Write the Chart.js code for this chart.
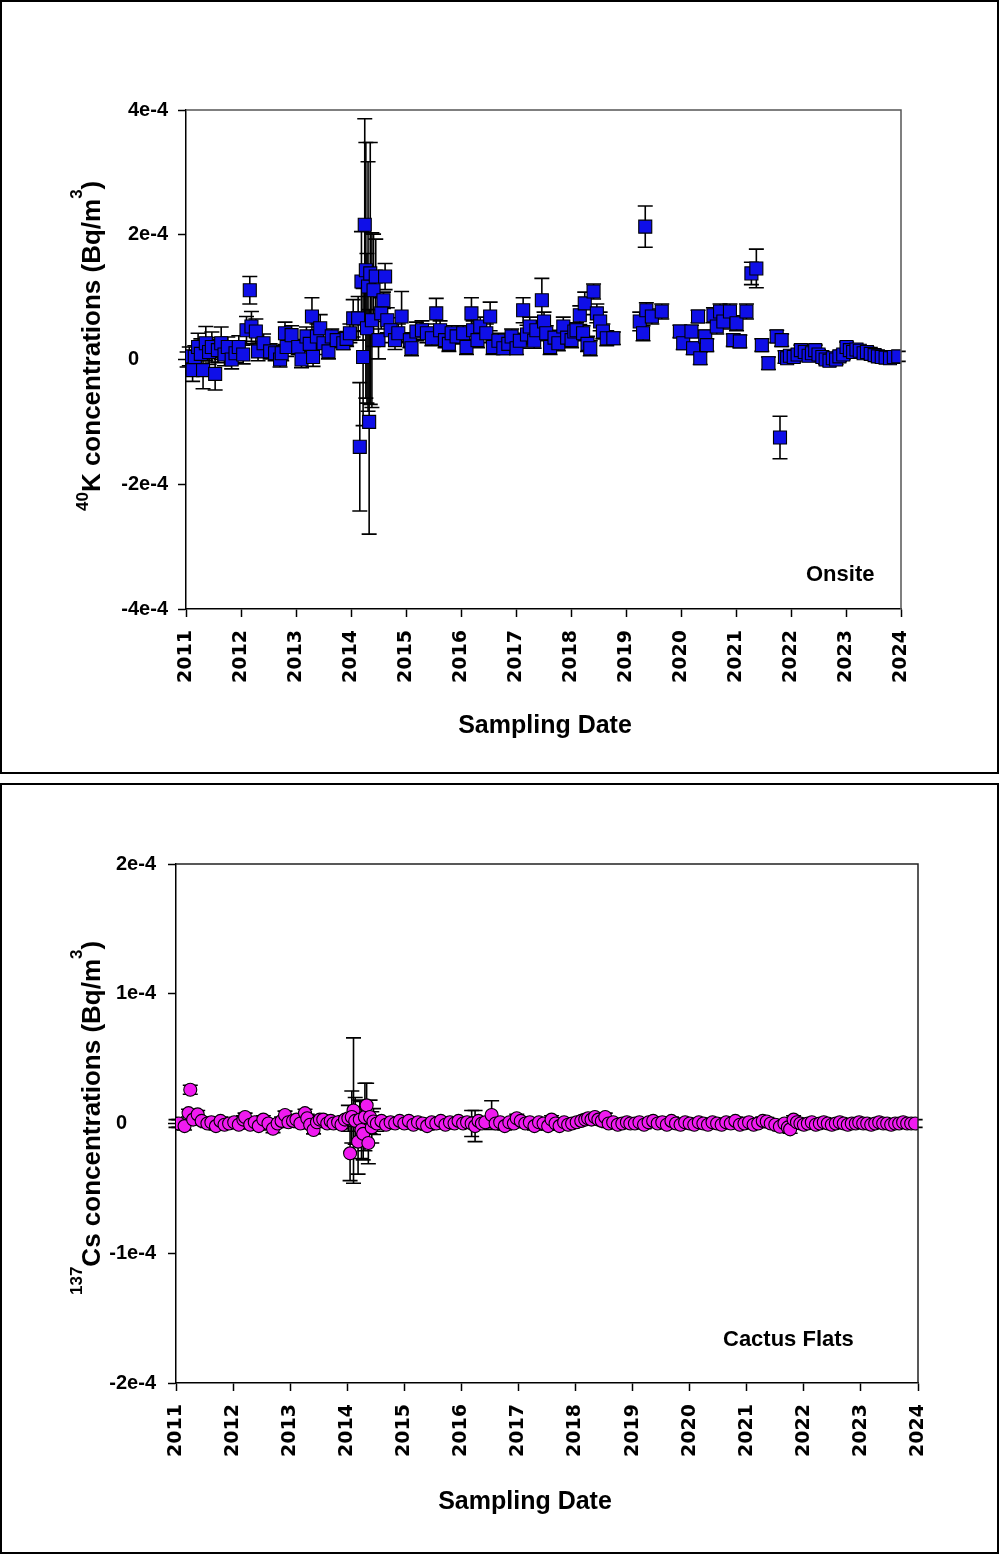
<!DOCTYPE html>
<html>
<head>
<meta charset="utf-8">
<script src="https://cdn.jsdelivr.net/npm/chart.js@4.4.1/dist/chart.umd.min.js"></script>
<style>
  body { margin: 0; background: #fff; width: 999px; height: 1554px; position: relative; overflow: hidden; }
  .panel { position: absolute; left: 0; width: 999px; border: 2px solid #000; box-sizing: border-box; }
  #p1 { top: 0; height: 774px; }
  #p2 { top: 783px; height: 771px; }
  canvas { position: absolute; left: 0; }
  #c1 { top: 0; }
  #c2 { top: 783px; }
</style>
</head>
<body>
<div class="panel" id="p1"></div>
<div class="panel" id="p2"></div>
<canvas id="c1" width="999" height="774"></canvas>
<canvas id="c2" width="999" height="771"></canvas>
<script>
// values are in units of 1e-5 Bq/m3, dates in decimal years

const yearTicks = ['2011','2012','2013','2014','2015','2016','2017','2018','2019','2020','2021','2022','2023','2024'];
const kTicks = ['-4e-4','-2e-4','0','2e-4','4e-4'];
const csTicks = ['-2e-4','-1e-4','0','1e-4','2e-4'];

// 40K, Onsite
const kDates = [
  2011.02, 2011.06, 2011.12, 2011.16, 2011.22, 2011.27, 2011.31, 2011.36, 2011.42, 2011.47, 2011.53, 2011.58, 2011.64, 2011.70, 2011.76, 2011.83, 2011.90, 2011.96,
  2012.04, 2012.10, 2012.16, 2012.19, 2012.27, 2012.31, 2012.41, 2012.53, 2012.62, 2012.71, 2012.74, 2012.80, 2012.83, 2012.92,
  2013.04, 2013.10, 2013.19, 2013.25, 2013.29, 2013.31, 2013.38, 2013.44, 2013.50, 2013.59, 2013.65, 2013.74, 2013.86, 2013.92, 2013.98,
  2014.04, 2014.13, 2014.16, 2014.19, 2014.22, 2014.25, 2014.27, 2014.29, 2014.31, 2014.33, 2014.35, 2014.38, 2014.41, 2014.45, 2014.50, 2014.55, 2014.59, 2014.62, 2014.66, 2014.72, 2014.80, 2014.86, 2014.92,
  2015.07, 2015.10, 2015.19, 2015.29, 2015.38, 2015.47, 2015.55, 2015.62, 2015.71, 2015.78, 2015.83, 2015.92,
  2016.04, 2016.10, 2016.19, 2016.22, 2016.30, 2016.35, 2016.46, 2016.53, 2016.58, 2016.68, 2016.77, 2016.86, 2016.92,
  2017.01, 2017.07, 2017.13, 2017.20, 2017.25, 2017.33, 2017.37, 2017.47, 2017.51, 2017.55, 2017.62, 2017.70, 2017.77, 2017.86, 2017.93,
  2018.01, 2018.06, 2018.10, 2018.16, 2018.22, 2018.25, 2018.30, 2018.35, 2018.41, 2018.47, 2018.53, 2018.58, 2018.65, 2018.77,
  2019.25, 2019.31, 2019.35, 2019.37, 2019.47, 2019.65, 2019.98,
  2020.04, 2020.19, 2020.22, 2020.31, 2020.35, 2020.44, 2020.47, 2020.59, 2020.65, 2020.71, 2020.77, 2020.89, 2020.95,
  2021.01, 2021.07, 2021.19, 2021.28, 2021.37, 2021.47, 2021.59, 2021.74, 2021.80, 2021.83, 2021.89,
  2021.93, 2021.98, 2022.05, 2022.12, 2022.18, 2022.25, 2022.32, 2022.38, 2022.44, 2022.50, 2022.57, 2022.63, 2022.70, 2022.76, 2022.82, 2022.88, 2022.95,
  2023.01, 2023.07, 2023.13, 2023.19, 2023.25, 2023.32, 2023.38, 2023.45, 2023.52, 2023.58, 2023.65, 2023.72, 2023.80, 2023.87, 2023.95
];
const kValues = [
  0.0, 0.5, -1.7, 0.4, 2.0, 0.9, -1.7, 2.6, 1.2, 2.0, -2.3, 1.5, 2.6, 0.8, 2.0, 0.0, 1.0, 2.0,
  0.8, 4.7, 11.1, 5.3, 4.5, 1.3, 2.6, 1.3, 1.0, 0.0, 1.0, 4.2, 2.0, 3.9,
  2.0, 0.0, 3.7, 2.5, 6.9, 0.4, 3.7, 5.0, 2.6, 1.3, 3.7, 3.1, 2.6, 3.3, 4.2,
  6.6, 6.6, -14.0, 12.5, 0.4, 21.6, 14.3, 5.0, 11.7, -10.0, 13.8, 6.3, 11.1, 13.3, 3.1, 7.4, 9.5, 13.3, 6.3, 4.7, 3.1, 4.2, 6.9,
  3.1, 1.8, 4.5, 4.7, 4.2, 3.4, 7.4, 4.7, 3.1, 2.5, 4.2, 3.7,
  4.2, 2.0, 7.4, 4.7, 3.1, 5.3, 4.2, 6.9, 2.0, 3.0, 1.8, 2.5, 3.7,
  1.8, 3.0, 7.9, 4.0, 5.3, 3.0, 4.7, 9.5, 6.1, 4.2, 2.0, 3.5, 2.6, 5.3, 3.5,
  3.1, 4.5, 4.7, 7.1, 4.2, 9.0, 2.5, 1.8, 10.9, 7.4, 6.1, 4.5, 3.4, 3.4,
  6.1, 4.2, 21.3, 7.9, 6.9, 7.7, 4.5,
  2.6, 4.5, 1.8, 6.9, 0.2, 3.7, 2.3, 7.1, 5.3, 7.7, 6.1, 7.7, 3.1,
  5.8, 2.9, 7.7, 13.8, 14.6, 2.3, -0.6, 3.7, -12.5, 3.1, 0.4,
  0.2, 0.6, 0.4, 0.8, 1.5, 1.2, 0.6, 1.0, 1.5, 0.8, 0.4, 0.0, -0.2, 0.2, 0.0, 0.5, 0.8,
  2.0, 1.5, 1.2, 1.6, 1.4, 1.0, 1.2, 0.9, 0.7, 0.5, 0.4, 0.3, 0.2, 0.4, 0.5
];
const kErrors = [
  1.2, 1.5, 1.8, 1.8, 2.2, 2.4, 3.0, 2.7, 2.0, 2.4, 2.6, 2.0, 2.6, 1.8, 1.6, 1.5, 1.5, 1.8,
  1.5, 2.2, 2.2, 2.4, 2.0, 1.5, 1.5, 1.2, 1.2, 1.2, 1.2, 1.8, 1.5, 1.5,
  1.2, 1.3, 1.5, 1.5, 3.0, 1.5, 2.0, 2.2, 1.8, 1.2, 1.2, 1.2, 1.0, 1.2, 1.5,
  3.0, 3.5, 10.3, 8.0, 11.0, 17.0, 20.5, 12.0, 20.0, 18.0, 21.0, 14.0, 9.0, 6.0, 3.0, 2.5, 1.3, 2.1, 2.0, 2.0, 1.5, 1.5, 4.0,
  1.2, 1.2, 1.5, 1.5, 1.5, 1.2, 2.4, 1.5, 1.2, 1.2, 1.2, 1.2,
  1.2, 1.2, 2.5, 1.5, 1.2, 1.5, 1.5, 2.3, 1.2, 1.2, 1.0, 1.0, 1.2,
  1.0, 1.2, 2.0, 1.5, 1.5, 1.2, 1.5, 3.5, 1.5, 1.2, 1.2, 1.2, 1.2, 1.5, 1.2,
  1.2, 1.2, 1.2, 1.5, 1.2, 1.8, 1.2, 1.2, 1.2, 1.5, 1.5, 1.2, 1.2, 1.0,
  1.5, 1.2, 3.3, 1.2, 1.2, 1.2, 1.0,
  1.0, 1.0, 1.0, 1.0, 1.0, 1.0, 1.0, 1.2, 1.2, 1.2, 1.2, 1.2, 1.0,
  1.2, 1.0, 1.2, 1.8, 3.1, 1.0, 1.0, 1.0, 3.4, 1.0, 1.0,
  0.8, 0.8, 0.8, 0.8, 0.8, 0.8, 0.8, 0.8, 0.8, 0.8, 0.8, 0.8, 0.8, 0.8, 0.8, 0.8, 0.8,
  0.8, 0.8, 0.8, 0.8, 0.8, 0.8, 0.8, 0.8, 0.8, 0.8, 0.8, 0.8, 0.8, 0.8, 0.8
];

// 137Cs, Cactus Flats
const csDates = [
  2011.00, 2011.05, 2011.15, 2011.22, 2011.25, 2011.30, 2011.38, 2011.45, 2011.55, 2011.62, 2011.70, 2011.78, 2011.85, 2011.93,
  2012.02, 2012.10, 2012.18, 2012.21, 2012.30, 2012.38, 2012.45, 2012.53, 2012.62, 2012.70, 2012.78, 2012.85, 2012.91, 2012.97,
  2013.05, 2013.11, 2013.18, 2013.26, 2013.30, 2013.35, 2013.41, 2013.47, 2013.52, 2013.58, 2013.65, 2013.71, 2013.76, 2013.84, 2013.90, 2013.96,
  2014.02, 2014.11, 2014.08, 2014.05, 2014.14, 2014.19, 2014.22, 2014.25, 2014.28, 2014.31, 2014.34, 2014.37, 2014.40, 2014.43, 2014.46, 2014.52, 2014.60, 2014.68, 2014.76, 2014.84, 2014.92,
  2015.00, 2015.08, 2015.16, 2015.24, 2015.32, 2015.40, 2015.48, 2015.56, 2015.64, 2015.72, 2015.80, 2015.88, 2015.95,
  2016.03, 2016.10, 2016.18, 2016.24, 2016.30, 2016.36, 2016.42, 2016.53, 2016.60, 2016.68, 2016.76, 2016.84, 2016.92, 2016.97,
  2017.04, 2017.12, 2017.20, 2017.28, 2017.36, 2017.44, 2017.52, 2017.58, 2017.65, 2017.72, 2017.80, 2017.87, 2017.94,
  2018.02, 2018.10, 2018.17, 2018.22, 2018.28, 2018.34, 2018.40, 2018.46, 2018.52, 2018.58, 2018.66, 2018.74, 2018.82, 2018.90, 2018.96,
  2019.04, 2019.12, 2019.20, 2019.28, 2019.36, 2019.44, 2019.52, 2019.60, 2019.68, 2019.76, 2019.84, 2019.92,
  2020.00, 2020.08, 2020.16, 2020.24, 2020.32, 2020.40, 2020.48, 2020.56, 2020.64, 2020.72, 2020.80, 2020.88, 2020.96,
  2021.04, 2021.12, 2021.20, 2021.28, 2021.35, 2021.42, 2021.50, 2021.58, 2021.66, 2021.72, 2021.76, 2021.82, 2021.88, 2021.94,
  2022.00, 2022.07, 2022.14, 2022.21, 2022.28, 2022.35, 2022.42, 2022.49, 2022.56, 2022.63, 2022.70, 2022.77, 2022.84, 2022.91, 2022.97,
  2023.04, 2023.11, 2023.18, 2023.25, 2023.32, 2023.39, 2023.46, 2023.53, 2023.60, 2023.67, 2023.74, 2023.81, 2023.88, 2023.95
];
const csValues = [
  0.0, 0.0, -0.2, 0.8, 2.6, 0.3, 0.7, 0.2, 0.0, 0.1, -0.2, 0.2, -0.1, 0.0,
  0.1, -0.1, 0.3, 0.5, -0.1, 0.1, -0.2, 0.3, 0.0, -0.4, 0.0, 0.2, 0.65, 0.1,
  0.2, 0.3, 0.0, 0.8, 0.4, -0.1, -0.5, 0.1, 0.3, 0.3, 0.0, 0.2, 0.0, 0.1, -0.1, 0.3,
  0.4, 1.0, 0.5, -2.3, 0.2, -1.4, 0.3, -0.5, -0.8, 0.5, 1.4, -1.5, 0.5, -0.3, 0.15, 0.0, 0.2, -0.1, 0.1, 0.0, 0.2,
  0.0, 0.2, -0.1, 0.1, 0.0, -0.2, 0.1, 0.0, 0.2, -0.1, 0.1, 0.0, 0.2,
  0.0, 0.1, 0.0, -0.2, 0.2, 0.0, 0.1, 0.65, 0.0, 0.1, -0.2, 0.1, 0.0, 0.4,
  0.2, 0.0, 0.1, -0.2, 0.1, 0.0, -0.2, 0.3, 0.0, -0.2, 0.1, -0.1, 0.0,
  0.1, 0.2, 0.3, 0.4, 0.3, 0.5, 0.3, 0.2, 0.5, 0.0, 0.1, -0.1, 0.0, 0.1, 0.0,
  0.0, 0.1, -0.1, 0.1, 0.2, 0.0, 0.1, -0.1, 0.2, 0.0, -0.1, 0.1,
  0.0, -0.1, 0.1, 0.0, -0.1, 0.1, 0.0, -0.1, 0.1, 0.0, 0.2, -0.1, 0.0,
  0.1, -0.1, 0.0, 0.2, 0.15, 0.0, -0.1, -0.25, 0.0, -0.3, -0.45, 0.3, 0.1, 0.0,
  -0.1, 0.0, 0.1, -0.1, 0.0, 0.1, 0.0, -0.1, 0.0, 0.1, 0.0, -0.1, 0.0, 0.0, 0.1,
  0.0, 0.0, -0.1, 0.0, 0.1, 0.0, 0.0, -0.1, 0.0, 0.0, 0.1, 0.0, 0.0, 0.0
];
const csErrors = [
  0.3, 0.3, 0.3, 0.3, 0.35, 0.3, 0.3, 0.3, 0.3, 0.3, 0.3, 0.3, 0.3, 0.3,
  0.3, 0.3, 0.3, 0.3, 0.3, 0.3, 0.3, 0.3, 0.3, 0.3, 0.3, 0.3, 0.3, 0.3,
  0.3, 0.3, 0.3, 0.3, 0.3, 0.3, 0.3, 0.3, 0.3, 0.3, 0.3, 0.3, 0.3, 0.3, 0.3, 0.3,
  1.0, 5.6, 2.0, 2.1, 1.8, 2.5, 1.5, 2.2, 2.0, 2.6, 1.7, 1.6, 1.3, 1.2, 1.0, 0.6, 0.3, 0.3, 0.3, 0.3, 0.3,
  0.3, 0.3, 0.3, 0.3, 0.3, 0.3, 0.3, 0.3, 0.3, 0.3, 0.3, 0.3, 0.3,
  0.3, 0.3, 1.0, 1.2, 0.3, 0.3, 0.3, 1.1, 0.3, 0.3, 0.3, 0.3, 0.3, 0.3,
  0.3, 0.3, 0.3, 0.3, 0.3, 0.3, 0.3, 0.3, 0.3, 0.3, 0.3, 0.3, 0.3,
  0.3, 0.3, 0.3, 0.3, 0.3, 0.3, 0.3, 0.3, 0.3, 0.3, 0.3, 0.3, 0.3, 0.3, 0.3,
  0.3, 0.3, 0.3, 0.3, 0.3, 0.3, 0.3, 0.3, 0.3, 0.3, 0.3, 0.3,
  0.3, 0.3, 0.3, 0.3, 0.3, 0.3, 0.3, 0.3, 0.3, 0.3, 0.3, 0.3, 0.3,
  0.3, 0.3, 0.3, 0.3, 0.3, 0.3, 0.3, 0.3, 0.3, 0.3, 0.3, 0.3, 0.3, 0.3,
  0.3, 0.3, 0.3, 0.3, 0.3, 0.3, 0.3, 0.3, 0.3, 0.3, 0.3, 0.3, 0.3, 0.3, 0.3,
  0.3, 0.3, 0.3, 0.3, 0.3, 0.3, 0.3, 0.3, 0.3, 0.3, 0.3, 0.3, 0.3, 0.3
];

const FONT = '"Liberation Sans", Arial, sans-serif';

// vertical error bars with caps, drawn under the markers
const errorBars = {
  id: 'errorBars',
  beforeDatasetsDraw(chart) {
    const ctx = chart.ctx;
    const xs = chart.scales.x, ys = chart.scales.y;
    ctx.save();
    ctx.strokeStyle = '#000';
    ctx.lineWidth = 1.6;
    chart.data.datasets.forEach(ds => {
      const errs = ds.errors || [];
      ds.data.forEach((p, i) => {
        const e = errs[i];
        if (!e) return;
        const x = xs.getPixelForValue(p.x);
        const yHi = ys.getPixelForValue(p.y + e);
        const yLo = ys.getPixelForValue(p.y - e);
        ctx.beginPath();
        ctx.moveTo(x, yHi); ctx.lineTo(x, yLo);
        ctx.moveTo(x - 7.5, yHi); ctx.lineTo(x + 7.5, yHi);
        ctx.moveTo(x - 7.5, yLo); ctx.lineTo(x + 7.5, yLo);
        ctx.stroke();
      });
    });
    ctx.restore();
  }
};

// frame lines, y tick labels (aligned on the first digit) and the texts
const panelDeco = {
  id: 'panelDeco',
  afterDraw(chart, args, o) {
    const ctx = chart.ctx;
    const a = chart.chartArea;
    const ys = chart.scales.y;
    ctx.save();
    ctx.strokeStyle = o.frameColor;
    ctx.lineWidth = 1.5;
    ctx.beginPath();
    ctx.moveTo(a.left, a.top);
    ctx.lineTo(a.right, a.top);
    ctx.lineTo(a.right, a.bottom);
    ctx.stroke();

    ctx.fillStyle = '#000';
    ctx.font = 'bold 20px ' + FONT;
    ctx.textBaseline = 'middle';
    ys.ticks.forEach(t => {
      const y = ys.getPixelForValue(t.value);
      let lab = String(t.label);
      if (lab[0] === '-') {
        ctx.textAlign = 'right';
        ctx.fillText('-', o.tickAnchor, y);
        lab = lab.slice(1);
      }
      ctx.textAlign = 'left';
      ctx.fillText(lab, o.tickAnchor, y);
    });

    ctx.textBaseline = 'alphabetic';
    ctx.textAlign = 'left';
    ctx.font = 'bold 22px ' + FONT;
    ctx.fillText(o.site, o.siteX, o.siteY);

    ctx.textAlign = 'center';
    ctx.font = 'bold 25px ' + FONT;
    ctx.fillText('Sampling Date', o.xTitleX, o.xTitleY);

    ctx.translate(o.yTitleX, o.yTitleY);
    ctx.rotate(-Math.PI / 2);
    ctx.textAlign = 'left';
    let pos = 0;
    o.yTitle.forEach(p => {
      ctx.font = 'bold ' + p.size + 'px ' + FONT;
      ctx.fillText(p.text, pos, -p.raise);
      pos += ctx.measureText(p.text).width;
    });
    ctx.restore();
  }
};

function buildChart(id, s) {
  const pts = s.dates.map((d, i) => ({ x: d, y: s.values[i] }));
  return new Chart(document.getElementById(id), {
    type: 'scatter',
    data: {
      datasets: [{
        data: pts,
        errors: s.errors,
        pointStyle: s.pointStyle,
        pointRadius: s.pointRadius,
        backgroundColor: s.color,
        borderColor: '#000',
        borderWidth: 1.1
      }]
    },
    options: {
      responsive: false,
      animation: false,
      events: [],
      layout: { padding: s.padding },
      plugins: {
        legend: { display: false },
        tooltip: { enabled: false },
        panelDeco: s.deco
      },
      scales: {
        x: {
          type: 'linear', min: 2011, max: 2024,
          afterFit: sc => { sc.height = 120; },
          ticks: {
            stepSize: 1, autoSkip: false, maxRotation: 90, minRotation: 90, padding: 13,
            color: '#000', font: { family: 'DejaVu Sans', weight: 'bold', size: 19 },
            callback: (v, i) => yearTicks[i]
          },
          grid: { drawOnChartArea: false, tickLength: 8, tickColor: '#000', tickWidth: 1.5 },
          border: { color: '#000', width: 1.5 }
        },
        y: {
          min: s.yMin, max: s.yMax,
          afterFit: sc => { sc.width = 100; },
          ticks: {
            display: false,
            stepSize: s.yStep,
            callback: (v, i) => s.yTicks[i]
          },
          grid: { drawOnChartArea: false, tickLength: 8, tickColor: '#000', tickWidth: 1.5 },
          border: { color: '#000', width: 1.5 }
        }
      }
    },
    plugins: [errorBars, panelDeco]
  });
}

buildChart('c1', {
  dates: kDates, values: kValues, errors: kErrors,
  pointStyle: 'rect', pointRadius: 9.2, color: '#0f0fe8',
  yMin: -40, yMax: 40, yStep: 20, yTicks: kTicks,
  padding: { left: 86, right: 98, top: 110, bottom: 45 },
  deco: {
    frameColor: '#555',
    tickAnchor: 128,
    site: 'Onsite', siteX: 806, siteY: 581,
    xTitleX: 545, xTitleY: 733,
    yTitleX: 100, yTitleY: 511,
    yTitle: [
      { text: '40', size: 17, raise: 12 },
      { text: 'K concentrations (Bq/m', size: 26, raise: 0 },
      { text: '3', size: 17, raise: 18 },
      { text: ')', size: 26, raise: 0 }
    ]
  }
});

buildChart('c2', {
  dates: csDates, values: csValues, errors: csErrors,
  pointStyle: 'circle', pointRadius: 6.5, color: '#f01af0',
  yMin: -20, yMax: 20, yStep: 10, yTicks: csTicks,
  padding: { left: 76, right: 81, top: 81, bottom: 51 },
  deco: {
    frameColor: '#222',
    tickAnchor: 116,
    site: 'Cactus Flats', siteX: 723, siteY: 563,
    xTitleX: 525, xTitleY: 726,
    yTitleX: 100, yTitleY: 512,
    yTitle: [
      { text: '137', size: 17, raise: 18 },
      { text: 'Cs concentrations (Bq/m', size: 26, raise: 0 },
      { text: '3', size: 17, raise: 18 },
      { text: ')', size: 26, raise: 0 }
    ]
  }
});
</script>
</body>
</html>
